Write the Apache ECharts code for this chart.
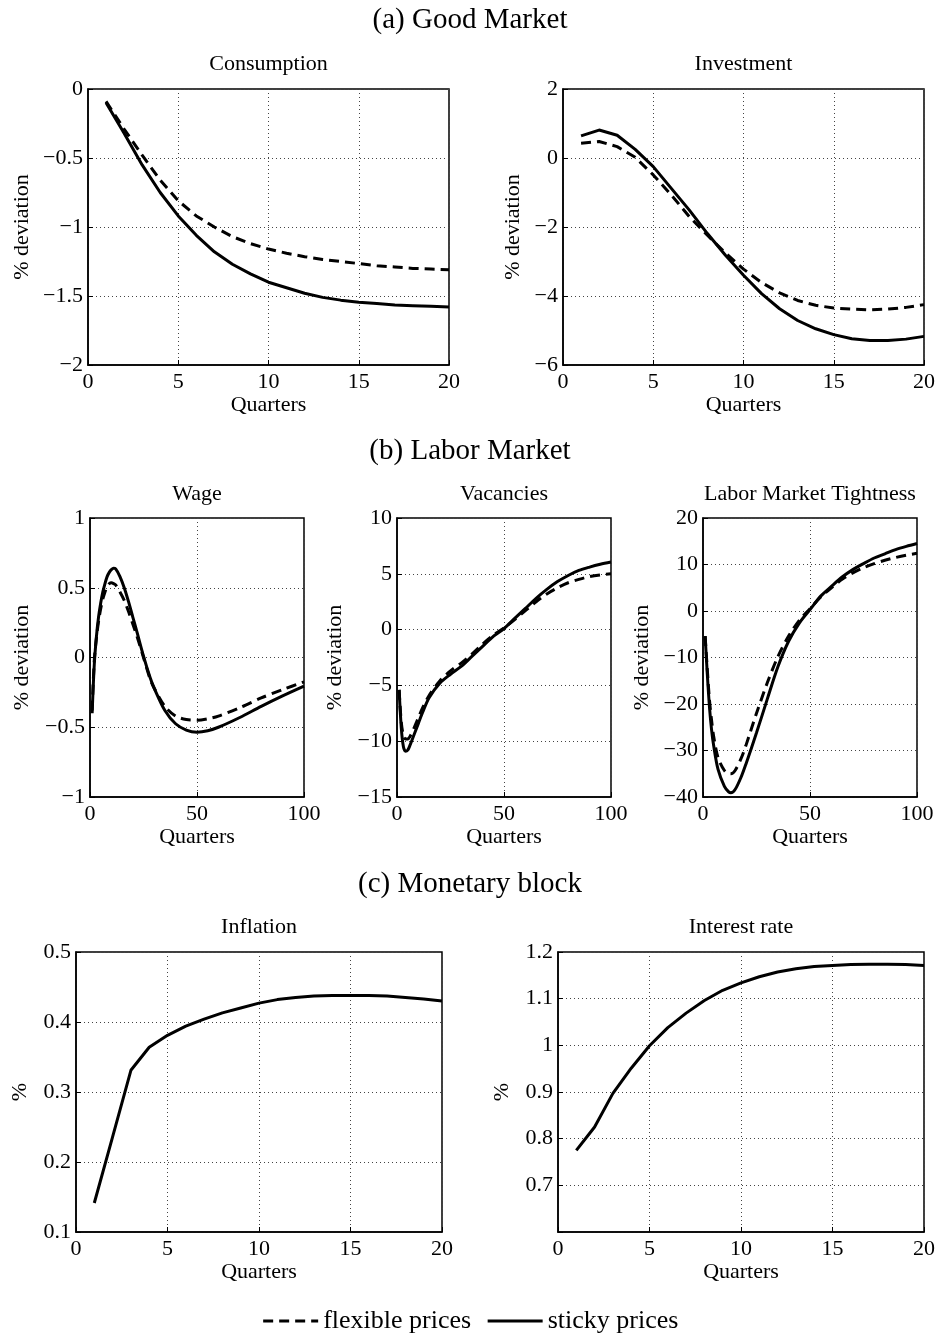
<!DOCTYPE html>
<html>
<head>
<meta charset="utf-8">
<script src="https://cdn.jsdelivr.net/npm/echarts@6/dist/echarts.min.js"></script>
<style>
html,body{margin:0;padding:0;background:#fff;}
#chart{width:940px;height:1335px;}
</style>
</head>
<body>
<div id="chart"></div>
<script>
// ---------- DATA ----------
var quarters20 = [1,2,3,4,5,6,7,8,9,10,11,12,13,14,15,16,17,18,19,20];

var consFlex   = [-0.09,-0.29,-0.48,-0.66,-0.81,-0.92,-1.00,-1.07,-1.12,-1.16,-1.19,-1.215,-1.235,-1.25,-1.265,-1.28,-1.29,-1.30,-1.305,-1.31];
var consSticky = [-0.10,-0.32,-0.55,-0.75,-0.92,-1.06,-1.18,-1.27,-1.34,-1.40,-1.44,-1.48,-1.51,-1.53,-1.545,-1.555,-1.565,-1.57,-1.575,-1.58];

var invFlex   = [0.43,0.48,0.33,0.02,-0.49,-1.07,-1.70,-2.24,-2.75,-3.22,-3.61,-3.91,-4.13,-4.27,-4.35,-4.38,-4.40,-4.38,-4.33,-4.25];
var invSticky = [0.64,0.81,0.66,0.25,-0.25,-0.88,-1.51,-2.19,-2.82,-3.40,-3.93,-4.37,-4.71,-4.95,-5.12,-5.24,-5.29,-5.29,-5.25,-5.17];

var wageQ      = [1,2,3,4,5,6,7,8,9,10,11,12,14,16,18,20,22,25,28,30,35,40,45,50,55,60,70,80,90,100];
var wageFlex   = [-0.38,-0.02,0.14,0.26,0.35,0.42,0.47,0.51,0.53,0.535,0.53,0.52,0.47,0.41,0.33,0.24,0.15,0.0,-0.15,-0.22,-0.35,-0.42,-0.445,-0.45,-0.44,-0.42,-0.36,-0.29,-0.23,-0.175];
var wageSticky = [-0.40,-0.05,0.15,0.29,0.39,0.47,0.53,0.58,0.61,0.63,0.64,0.635,0.58,0.50,0.40,0.29,0.18,0.01,-0.14,-0.22,-0.38,-0.475,-0.52,-0.535,-0.525,-0.50,-0.43,-0.35,-0.275,-0.205];

var vacQ      = [1,2,3,4,5,6,8,10,12,15,20,25,30,35,40,45,50,55,60,65,70,75,80,85,90,95,100];
var vacFlex   = [-5.4,-8.3,-9.5,-9.8,-9.8,-9.6,-8.8,-7.9,-7.0,-5.9,-4.6,-3.7,-3.0,-2.2,-1.3,-0.5,0.15,0.9,1.7,2.5,3.2,3.75,4.2,4.5,4.75,4.9,5.0];
var vacSticky = [-5.4,-8.8,-10.5,-10.9,-10.8,-10.4,-9.4,-8.4,-7.4,-6.1,-4.8,-4.0,-3.3,-2.4,-1.5,-0.6,0.1,1.0,1.9,2.8,3.6,4.3,4.85,5.3,5.6,5.85,6.05];

var tightQ      = [1,2,3,4,5,7,10,12,13,15,18,20,25,30,35,40,45,50,55,60,65,70,75,80,85,90,95,100];
var tightFlex   = [-5.4,-12.5,-19,-23.5,-27,-31.5,-34.3,-35,-35,-34.3,-31.5,-29,-22,-15.5,-9.8,-5.4,-2.0,0.5,3.0,5.0,6.8,8.2,9.3,10.2,10.9,11.5,12.0,12.4];
var tightSticky = [-5.4,-13.5,-20.5,-25.5,-29,-34,-37.7,-38.9,-39.1,-38.4,-35.5,-33,-26.2,-19,-12,-6.5,-2.6,0.3,3.2,5.3,7.3,8.9,10.2,11.4,12.3,13.2,13.9,14.5];

var inflSticky = [0.1414,0.236,0.331,0.364,0.381,0.394,0.404,0.413,0.420,0.427,0.432,0.435,0.437,0.438,0.438,0.438,0.437,0.435,0.433,0.430];
var rateSticky = [0.775,0.825,0.897,0.951,0.999,1.038,1.069,1.096,1.118,1.134,1.147,1.157,1.164,1.169,1.171,1.173,1.174,1.174,1.173,1.171];

var panelTitles = ['Consumption','Investment','Wage','Vacancies','Labor Market Tightness','Inflation','Interest rate'];
var sectionTitles = ['(a) Good Market','(b) Labor Market','(c) Monetary block'];
var seriesNames = ['flexible prices','sticky prices'];

// ---------- LAYOUT ----------
var FONT = '"Liberation Serif", "Times New Roman", serif';
var grids = [
  {left:88, top:89, width:361, height:276},
  {left:563, top:89, width:361, height:276},
  {left:90, top:518, width:214, height:279},
  {left:397, top:518, width:214, height:279},
  {left:703, top:518, width:214, height:279},
  {left:76, top:952, width:366, height:280},
  {left:558, top:952, width:366, height:280}
];
var yCfg = [
  {min:-2, max:0, interval:0.5, name:'% deviation', gap:55},
  {min:-6, max:2, interval:2, name:'% deviation', gap:39},
  {min:-1, max:1, interval:0.5, name:'% deviation', gap:57},
  {min:-15, max:10, interval:5, name:'% deviation', gap:51},
  {min:-40, max:20, interval:10, name:'% deviation', gap:50},
  {min:0.1, max:0.5, interval:0.1, name:'%', gap:45},
  {min:0.6, max:1.2, interval:0.1, name:'%', gap:45, hideMin:true}
];
var xMax = [20,20,100,100,100,20,20];
var titleY = [64,64,494,494,494,927,927];
var sectionY = [20,451,884];

function fmt(v){
  var r = Math.round(v*10)/10;
  return String(r).replace('-', '\u2212');
}

var option = {
  animation:false,
  backgroundColor:'#fff',
  grid: grids.map(function(g){
    return {left:g.left, top:g.top, width:g.width, height:g.height, show:true,
      borderColor:'#000', borderWidth:1.5, backgroundColor:'transparent', containLabel:false};
  }),
  xAxis: grids.map(function(g,i){
    return {type:'value', gridIndex:i, min:0, max:xMax[i], interval:xMax[i]===20?5:50,
      position:'bottom',
      name:'Quarters', nameLocation:'middle', nameGap:29,
      nameTextStyle:{fontFamily:FONT, fontSize:22, color:'#000'},
      axisLine:{show:true, onZero:false, lineStyle:{color:'#000', width:1.5}},
      axisTick:{show:true, inside:true, length:5, lineStyle:{color:'#000'}},
      axisLabel:{fontFamily:FONT, fontSize:22, color:'#000', margin:6, formatter:fmt},
      splitLine:{show:true, lineStyle:{color:'#444', width:1, type:[1,3]}}
    };
  }),
  yAxis: grids.map(function(g,i){
    var c = yCfg[i];
    return {type:'value', gridIndex:i, min:c.min, max:c.max, interval:c.interval,
      position:'left',
      name:c.name, nameLocation:'middle', nameGap:c.gap,
      nameTextStyle:{fontFamily:FONT, fontSize:22, color:'#000'},
      axisLine:{show:true, onZero:false, lineStyle:{color:'#000', width:1.5}},
      axisTick:{show:true, inside:true, length:5, lineStyle:{color:'#000'}},
      axisLabel:{fontFamily:FONT, fontSize:22, color:'#000', margin:5,
        formatter: c.hideMin ? function(v){ return Math.abs(v-0.6)<1e-6 ? '' : fmt(v); } : fmt},
      splitLine:{show:true, lineStyle:{color:'#444', width:1, type:[1,3]}}
    };
  }),
  legend:{
    show:true, data:seriesNames, left:'center', top:1303, itemWidth:55, itemHeight:14, itemGap:15,
    textStyle:{fontFamily:FONT, fontSize:26, color:'#000'},
    itemStyle:{color:'rgba(0,0,0,0)', borderWidth:0, opacity:0},
    lineStyle:{width:3}
  },
  graphic: [],
  series: []
};

// titles
panelTitles.forEach(function(t,i){
  var g = grids[i];
  option.graphic.push({type:'text', x:g.left+g.width/2, y:titleY[i],
    style:{text:t, fontFamily:FONT, fontSize:22, fill:'#000', align:'center', verticalAlign:'middle'}});
});
sectionTitles.forEach(function(t,i){
  option.graphic.push({type:'text', x:470, y:sectionY[i],
    style:{text:t, fontFamily:FONT, fontSize:29, fill:'#000', align:'center', verticalAlign:'middle'}});
});

function pairs(xs, ys){ return xs.map(function(x,k){ return [x, ys[k]]; }); }
function addSeries(idx, name, xs, ys, dashed, smooth){
  option.series.push({
    type:'line', name:name, xAxisIndex:idx, yAxisIndex:idx, data:pairs(xs,ys),
    symbol:'none', smooth:smooth||false, clip:true,
    lineStyle:{color:'#000', width:3, type: dashed ? [10,6] : 'solid'},
    itemStyle:{color:'#000'}
  });
}
addSeries(0, seriesNames[0], quarters20, consFlex, true);
addSeries(0, seriesNames[1], quarters20, consSticky, false);
addSeries(1, seriesNames[0], quarters20, invFlex, true);
addSeries(1, seriesNames[1], quarters20, invSticky, false);
addSeries(2, seriesNames[0], wageQ, wageFlex, true, 0.3);
addSeries(2, seriesNames[1], wageQ, wageSticky, false, 0.3);
addSeries(3, seriesNames[0], vacQ, vacFlex, true, 0.3);
addSeries(3, seriesNames[1], vacQ, vacSticky, false, 0.3);
addSeries(4, seriesNames[0], tightQ, tightFlex, true, 0.3);
addSeries(4, seriesNames[1], tightQ, tightSticky, false, 0.3);
addSeries(5, seriesNames[1], quarters20, inflSticky, false);
addSeries(6, seriesNames[1], quarters20, rateSticky, false);

var chart = echarts.init(document.getElementById('chart'), null, {renderer:'canvas'});
chart.setOption(option);
</script>
</body>
</html>
